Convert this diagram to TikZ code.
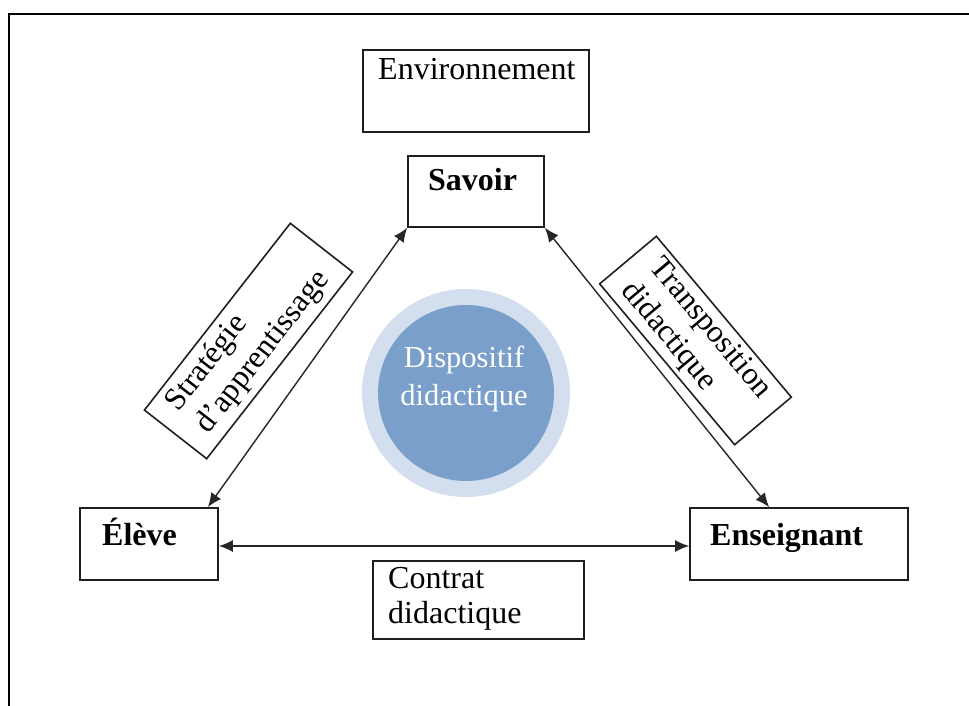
\documentclass[tikz,border=0pt]{standalone}
\usepackage{fontspec}
\setmainfont{Liberation Serif}
\usetikzlibrary{arrows.meta,calc}
\definecolor{ringc}{HTML}{D3DFEE}
\definecolor{diskc}{HTML}{7A9FCB}
\begin{document}
\begin{tikzpicture}[x=1pt,y=-1pt,
  box/.style={draw=black!88, line width=1.8pt, inner sep=0pt, rectangle},
  lbl/.style={inner sep=0pt, font=\fontsize{32}{35}\selectfont},
  blbl/.style={inner sep=0pt, font=\fontsize{32}{35}\selectfont\bfseries},
  rbox/.style={draw=black!88, line width=1.6pt, inner sep=0pt, rectangle, font=\fontsize{31.5}{37}\selectfont},
  link/.style={draw=black!85, line width=1.4pt, {Latex[length=14pt,width=12pt]}-{Latex[length=14pt,width=12pt]}}]
\useasboundingbox (0,0) rectangle (969,706);
% outer frame
\draw[line width=2.4pt] (9,710) -- (9,14) -- (972,14);
% boxes
\node[box, minimum width=226pt, minimum height=82pt] (env) at (476,91) {};
\node[lbl, anchor=base west] (envt) at (378,80) {Environnement};
\node[box, minimum width=136pt, minimum height=71pt] (savoir) at (476,191.5) {};
\node[blbl, anchor=base west] (savoirt) at (428,190) {Savoir};
\node[box, minimum width=138pt, minimum height=72pt] (eleve) at (149,544) {};
\node[blbl, anchor=base west] (elevet) at (102,545) {Élève};
\node[box, minimum width=218pt, minimum height=72pt] (ens) at (799,544) {};
\node[blbl, anchor=base west] (enst) at (710,545) {Enseignant};
\node[box, minimum width=211pt, minimum height=78pt] (contrat) at (478.5,600) {};
\node[lbl, anchor=base west] (contratt) at (388,588) {\begin{tabular}[t]{@{}l@{}}Contrat\\didactique\end{tabular}};
% central circle
\node[circle, fill=ringc, minimum size=208pt, inner sep=0pt] (ring) at (466,393) {};
\node[circle, fill=diskc, minimum size=176pt, inner sep=0pt] (disk) at (ring) {};
\node[inner sep=0pt, anchor=base, text=white, font=\fontsize{30.5}{38}\selectfont] (dispt) at (464,367) {\begin{tabular}[t]{@{}c@{}}Dispositif\\didactique\end{tabular}};
% rotated label boxes
\node[rbox, rotate=52, minimum width=237pt, minimum height=79pt] (strat) at (248.5,341) {\begin{tabular}{@{}l@{}}Stratégie\\d’apprentissage\end{tabular}};
\node[rbox, rotate=-50, minimum width=210pt, minimum height=69pt] (transp) at (695.5,340.5) {\begin{tabular}{@{}l@{}}Transposition\\didactique\end{tabular}};
% connectors
\draw[link] (savoir.south west) -- ([xshift=-11pt]eleve.north east);
\draw[link] (savoir.south east) -- ([xshift=80pt]ens.north west);
\draw[link] ([yshift=-2pt]eleve.east) -- ([yshift=-2pt]ens.west);
\end{tikzpicture}
\end{document}
